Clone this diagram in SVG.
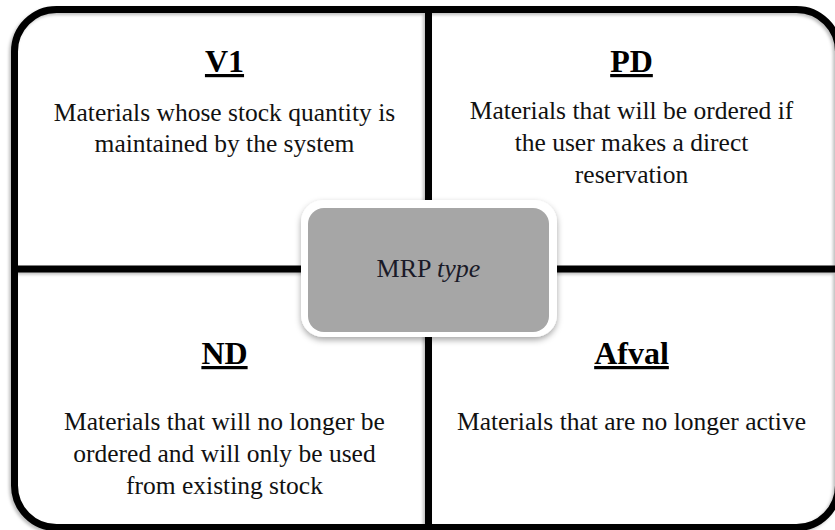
<svg xmlns="http://www.w3.org/2000/svg" width="835" height="530" viewBox="0 0 835 530">
<style>
.title{font-family:'Liberation Serif','Times New Roman',serif;font-weight:bold;font-size:32px;text-anchor:middle;text-decoration:underline;fill:#000}
.body{font-family:'Liberation Serif','Times New Roman',serif;font-size:25.5px;text-anchor:middle;fill:#111}
.mrp{font-family:'Liberation Serif','Times New Roman',serif;font-size:26px;text-anchor:middle;fill:#1a1a28}
.line{stroke:#000;stroke-width:7;fill:none}
</style>
<defs>
<filter id="sh" x="-5%" y="-5%" width="110%" height="110%">
<feDropShadow dx="-2" dy="2" stdDeviation="1.5" flood-color="#000" flood-opacity="0.25"/>
</filter>
<filter id="bsh" x="-10%" y="-10%" width="120%" height="130%">
<feDropShadow dx="0" dy="3" stdDeviation="3" flood-color="#000" flood-opacity="0.35"/>
</filter>
</defs>
<rect width="835" height="530" fill="#fff"/>
<g id="connectors" filter="url(#sh)">
<rect class="line" x="14.5" y="9.5" width="824" height="518" rx="42"/>
<line class="line" x1="428.5" y1="9.5" x2="428.5" y2="527.5"/>
<line class="line" x1="14.5" y1="269" x2="838.5" y2="269"/>
</g>
<g id="v1">
<text class="title" x="224.5" y="72">V1</text>
<text class="body" x="224.5" y="121">Materials whose stock quantity is</text>
<text class="body" x="224.5" y="152">maintained by the system</text>
</g>
<g id="pd">
<text class="title" x="631.5" y="72">PD</text>
<text class="body" x="631.5" y="119">Materials that will be ordered if</text>
<text class="body" x="631.5" y="151">the user makes a direct</text>
<text class="body" x="631.5" y="183">reservation</text>
</g>
<g id="nd">
<text class="title" x="224.5" y="364">ND</text>
<text class="body" x="224.5" y="430">Materials that will no longer be</text>
<text class="body" x="224.5" y="462">ordered and will only be used</text>
<text class="body" x="224.5" y="494">from existing stock</text>
</g>
<g id="afval">
<text class="title" x="631.5" y="364">Afval</text>
<text class="body" x="631.5" y="430">Materials that are no longer active</text>
</g>
<g id="mrp-type">
<rect x="301" y="200" width="256" height="137" rx="22" fill="#fff" filter="url(#bsh)"/>
<rect x="308" y="208" width="241" height="124" rx="16" fill="#a6a6a6"/>
<text class="mrp" x="428.5" y="277">MRP <tspan font-style="italic">type</tspan></text>
</g>
</svg>
